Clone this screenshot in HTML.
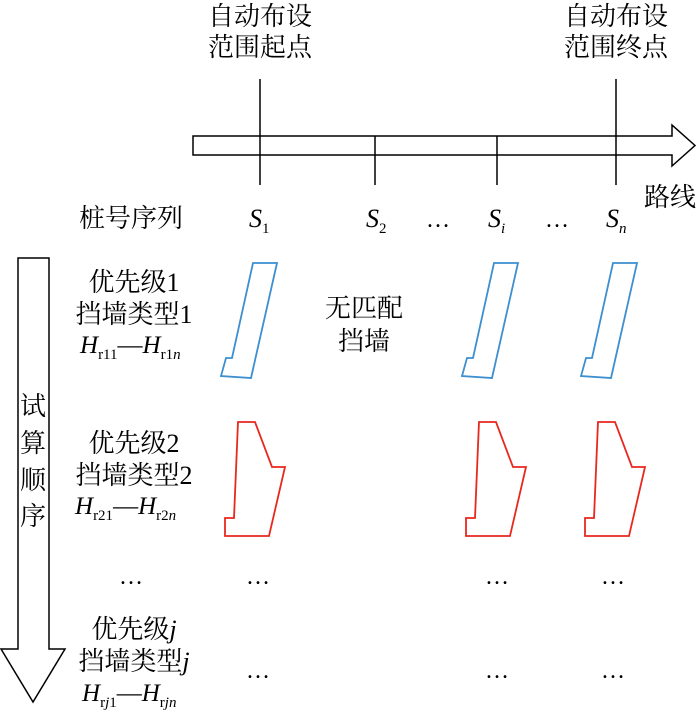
<!DOCTYPE html>
<html><head><meta charset="utf-8"><style>
body{margin:0;background:#fff}
svg text{font-family:"Liberation Serif","Noto Serif CJK SC",serif;fill:#000}
</style></head><body>
<svg width="700" height="721" viewBox="0 0 700 721" xmlns="http://www.w3.org/2000/svg">
<g fill="none" stroke="#000" stroke-width="1.5">
<polygon points="193,136 672,136 672,125 695,145.5 672,166 672,155 193,155" fill="#fff"/>
<line x1="260" y1="79" x2="260" y2="185"/>
<line x1="616" y1="79" x2="616" y2="185"/>
<line x1="375" y1="136" x2="375" y2="185"/>
<line x1="497" y1="136" x2="497" y2="185"/>
<polygon points="18,258 49,258 49,649 65,649 33,702 1,649 18,649" fill="#fff"/>
</g>
<g fill="none" stroke="#3d8fd0" stroke-width="1.8">
<polygon points="253,263 277,263 251,378 221,376 226,358 232,358"/>
<polygon points="494,263 518,263 492,378 462,376 467,358 473,358"/>
<polygon points="613,263 637,263 611,378 581,376 586,358 592,358"/>
</g>
<g fill="none" stroke="#e8281e" stroke-width="1.8">
<polygon points="238,422 255,422 272,467 285,467 269,536 225,536 225,518 234,518"/>
<polygon points="479,422 496,422 513,467 526,467 510,536 466,536 466,518 475,518"/>
<polygon points="598,422 615,422 632,467 645,467 629,536 585,536 585,518 594,518"/>
</g>
<g font-size="26" text-anchor="middle">
<text x="260" y="25">自动布设</text>
<text x="260" y="56">范围起点</text>
<text x="616" y="25">自动布设</text>
<text x="616" y="56">范围终点</text>
<text x="670" y="206">路线</text>
<text x="131" y="227">桩号序列</text>
<text x="364" y="317">无匹配</text>
<text x="364" y="350">挡墙</text>
<text x="134" y="291">优先级1</text>
<text x="134" y="323">挡墙类型1</text>
<text x="134" y="452">优先级2</text>
<text x="134" y="484">挡墙类型2</text>
<text x="134" y="638">优先级<tspan font-style="italic">j</tspan></text>
<text x="134" y="670">挡墙类型<tspan font-style="italic">j</tspan></text>
</g>
<g font-size="24" text-anchor="middle">
<text x="131" y="584">…</text>
<text x="258" y="584">…</text>
<text x="497" y="584">…</text>
<text x="613" y="584">…</text>
<text x="258" y="678">…</text>
<text x="497" y="678">…</text>
<text x="613" y="678">…</text>
<text x="438" y="227">…</text>
<text x="557" y="227">…</text>
</g>
<g font-size="26" text-anchor="middle">
<text x="33" y="415">试</text>
<text x="33" y="452">算</text>
<text x="33" y="489">顺</text>
<text x="33" y="525">序</text>
</g>
<g font-size="26">
<text x="249" y="227" font-style="italic">S<tspan font-size="15" font-style="normal" dy="6">1</tspan></text>
<text x="366" y="227" font-style="italic">S<tspan font-size="15" font-style="normal" dy="6">2</tspan></text>
<text x="488" y="227" font-style="italic">S<tspan font-size="15" dy="6">i</tspan></text>
<text x="606" y="227" font-style="italic">S<tspan font-size="15" dy="6">n</tspan></text>
</g>
<g font-size="25">
<text x="80" y="353"><tspan font-style="italic">H</tspan><tspan font-size="15" dy="6">r11</tspan><tspan dy="-6">—</tspan><tspan font-style="italic">H</tspan><tspan font-size="15" dy="6">r1<tspan font-style="italic">n</tspan></tspan></text>
<text x="75" y="514"><tspan font-style="italic">H</tspan><tspan font-size="15" dy="6">r21</tspan><tspan dy="-6">—</tspan><tspan font-style="italic">H</tspan><tspan font-size="15" dy="6">r2<tspan font-style="italic">n</tspan></tspan></text>
<text x="82" y="701"><tspan font-style="italic">H</tspan><tspan font-size="15" dy="6">r<tspan font-style="italic">j</tspan>1</tspan><tspan dy="-6">—</tspan><tspan font-style="italic">H</tspan><tspan font-size="15" dy="6">r<tspan font-style="italic">jn</tspan></tspan></text>
</g>
</svg>
</body></html>
